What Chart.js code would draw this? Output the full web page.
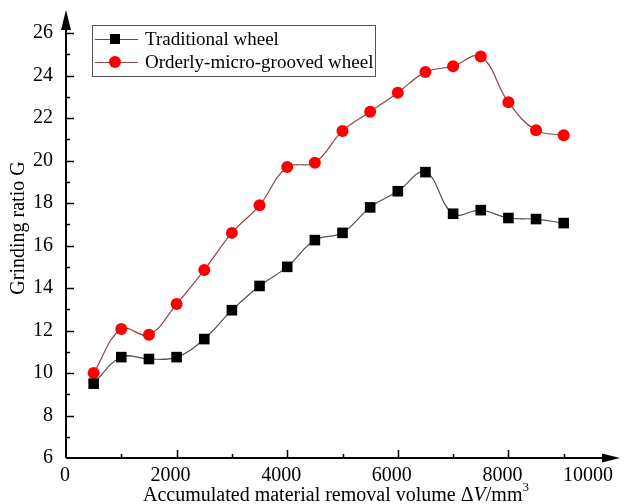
<!DOCTYPE html>
<html>
<head>
<meta charset="utf-8">
<script src="https://cdn.jsdelivr.net/npm/chart.js@4/dist/chart.umd.min.js"></script>
<style>
  html, body { margin: 0; padding: 0; background: #fff; }
  #wrap { width: 627px; height: 504px; }
</style>
</head>
<body>
<div id="wrap"><canvas id="chartCanvas" width="627" height="504"></canvas></div>
<script>
// values
const volumes = [500, 1000, 1500, 2000, 2500, 3000, 3500, 4000, 4500, 5000, 5500, 6000, 6500, 7000, 7500, 8000, 8500, 9000];
const traditional = [9.5, 10.75, 10.66, 10.75, 11.6, 12.96, 14.1, 15.0, 16.26, 16.6, 17.8, 18.56, 19.46, 17.5, 17.67, 17.3, 17.25, 17.06];
const grooved = [10.0, 12.07, 11.8, 13.25, 14.85, 16.6, 17.9, 19.7, 19.9, 21.4, 22.3, 23.2, 24.17, 24.45, 24.9, 22.75, 21.43, 21.2];
const seriesNames = ['Traditional wheel', 'Orderly-micro-grooved wheel'];
const xMajorTicks = [2000, 4000, 6000, 8000];
const xMinorTicks = [1000, 3000, 5000, 7000, 9000];

const FONT = '"Liberation Serif", "Times New Roman", serif';

const toPoints = ys => ys.map((y, i) => ({ x: volumes[i], y: y }));

// axes with arrows, inward ticks, titles and the framed legend
const decor = {
  id: 'decor',
  afterDraw(chart) {
    const ctx = chart.ctx;
    const xs = chart.scales.x, ys = chart.scales.y;
    const a = chart.chartArea;
    ctx.save();
    ctx.strokeStyle = '#000';
    ctx.fillStyle = '#000';
    ctx.lineWidth = 2;
    ctx.beginPath();
    ctx.moveTo(a.left, a.bottom);
    ctx.lineTo(a.left, a.top + 4);
    ctx.moveTo(a.left, a.bottom);
    ctx.lineTo(a.right - 4, a.bottom);
    ctx.stroke();
    // arrow heads
    ctx.beginPath();
    ctx.moveTo(a.left, a.top - 2);
    ctx.lineTo(a.left - 5, a.top + 18);
    ctx.lineTo(a.left + 5, a.top + 18);
    ctx.closePath();
    ctx.fill();
    ctx.beginPath();
    ctx.moveTo(a.right + 1, a.bottom);
    ctx.lineTo(a.right - 17, a.bottom - 4.5);
    ctx.lineTo(a.right - 17, a.bottom + 4.5);
    ctx.closePath();
    ctx.fill();

    // y ticks (inward)
    ctx.lineWidth = 1.5;
    ctx.beginPath();
    for (let v = 7; v <= 26; v++) {
      const py = Math.round(ys.getPixelForValue(v)) + 0.5;
      const len = v % 2 === 0 ? 8 : 4;
      ctx.moveTo(a.left, py);
      ctx.lineTo(a.left + len, py);
    }
    xMajorTicks.forEach(v => {
      const px = Math.round(xs.getPixelForValue(v)) + 0.5;
      ctx.moveTo(px, a.bottom);
      ctx.lineTo(px, a.bottom - 8);
    });
    xMinorTicks.forEach(v => {
      const px = Math.round(xs.getPixelForValue(v)) + 0.5;
      ctx.moveTo(px, a.bottom);
      ctx.lineTo(px, a.bottom - 4);
    });
    ctx.stroke();

    // y title
    ctx.font = '20px ' + FONT;
    ctx.textAlign = 'center';
    ctx.textBaseline = 'middle';
    ctx.save();
    ctx.translate(19, 228);
    ctx.rotate(-Math.PI / 2);
    ctx.fillText('Grinding ratio G', 0, 0);
    ctx.restore();

    // x title with italic V and superscript 3
    const parts = [
      { t: 'Accumulated material removal volume \u0394', f: '20px ' + FONT, dy: 0 },
      { t: 'V', f: 'italic 20px ' + FONT, dy: 0 },
      { t: '/mm', f: '20px ' + FONT, dy: 0 },
      { t: '3', f: '13px ' + FONT, dy: -10 }
    ];
    let total = 0;
    parts.forEach(p => { ctx.font = p.f; p.w = ctx.measureText(p.t).width; total += p.w; });
    let tx = 336 - total / 2;
    ctx.textAlign = 'left';
    ctx.textBaseline = 'alphabetic';
    parts.forEach(p => { ctx.font = p.f; ctx.fillText(p.t, tx, 501 + p.dy); tx += p.w; });

    // legend
    ctx.fillStyle = '#fff';
    ctx.fillRect(92, 25, 283, 51);
    ctx.strokeStyle = '#555';
    ctx.lineWidth = 1;
    ctx.strokeRect(92.5, 25.5, 283, 51);
    chart.data.datasets.forEach((ds, i) => {
      const ry = 39 + i * 23;
      ctx.strokeStyle = ds.borderColor;
      ctx.lineWidth = 1;
      ctx.beginPath();
      ctx.moveTo(95, ry + 0.5);
      ctx.lineTo(138, ry + 0.5);
      ctx.stroke();
      ctx.fillStyle = ds.pointBackgroundColor;
      if (ds.pointStyle === 'rect') {
        ctx.fillRect(110, ry - 5, 10, 10);
      } else {
        ctx.beginPath();
        ctx.arc(115, ry, 6, 0, Math.PI * 2);
        ctx.fill();
      }
      ctx.fillStyle = '#000';
      ctx.font = '19px ' + FONT;
      ctx.textBaseline = 'middle';
      ctx.fillText(ds.label, 145, ry + 1);
    });
    ctx.restore();
  }
};

new Chart(document.getElementById('chartCanvas'), {
  type: 'line',
  data: {
    datasets: [
      {
        label: seriesNames[0],
        data: toPoints(traditional),
        borderColor: '#505050',
        borderWidth: 1.2,
        pointStyle: 'rect',
        pointRadius: 7.5,
        pointBackgroundColor: '#000',
        pointBorderWidth: 0,
        tension: 0.4
      },
      {
        label: seriesNames[1],
        data: toPoints(grooved),
        borderColor: '#8a4848',
        borderWidth: 1.2,
        pointStyle: 'circle',
        pointRadius: 6,
        pointBackgroundColor: '#ff0000',
        pointBorderWidth: 0,
        tension: 0.4
      }
    ]
  },
  options: {
    responsive: false,
    animation: false,
    clip: false,
    layout: { padding: { top: 12, right: 8, left: 0, bottom: 0 } },
    plugins: { legend: { display: false }, tooltip: { enabled: false } },
    scales: {
      x: {
        type: 'linear',
        min: 0,
        max: 10000,
        afterFit: s => { s.height = 46; s.paddingLeft = 0; s.paddingRight = 0; },
        grid: { display: false, drawTicks: false },
        border: { display: false },
        ticks: {
          stepSize: 2000,
          padding: 6,
          align: 'inner',
          labelOffset: -6,
          color: '#000',
          font: { family: FONT, size: 20 },
          maxRotation: 0,
          autoSkip: false,
          callback: v => String(v)
        }
      },
      y: {
        min: 6,
        max: 27,
        afterFit: s => { s.width = 66; s.paddingTop = 0; s.paddingBottom = 0; },
        grid: { display: false, drawTicks: false },
        border: { display: false },
        ticks: {
          stepSize: 1,
          padding: 13,
          autoSkip: false,
          color: '#000',
          font: { family: FONT, size: 20 },
          callback: v => (v % 2 === 0 && v <= 26) ? v : ''
        }
      }
    }
  },
  plugins: [decor]
});
</script>
</body>
</html>
